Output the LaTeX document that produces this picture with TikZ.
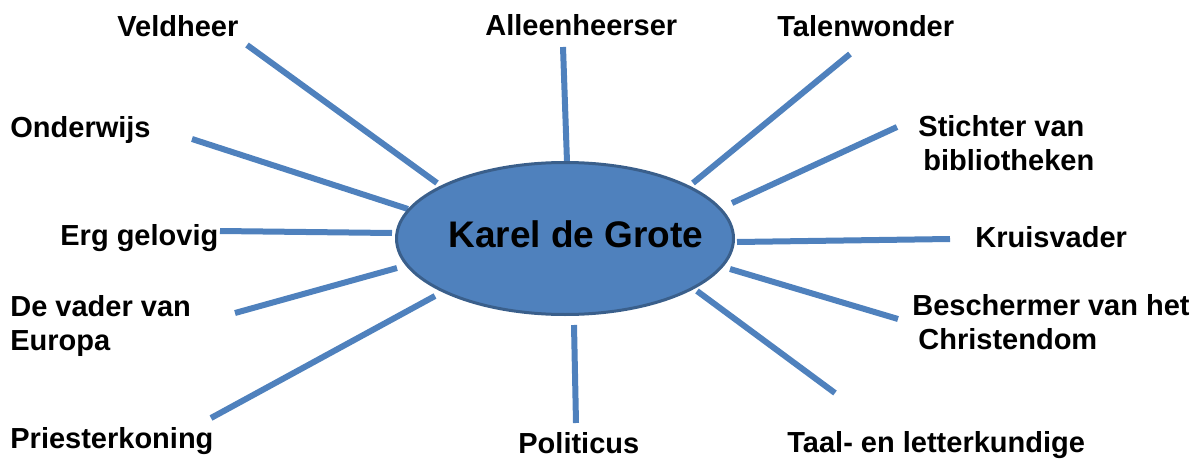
\documentclass[tikz,border=0pt]{standalone}
\usepackage{fontspec}
\setmainfont{Liberation Sans}
\usetikzlibrary{shapes.geometric}
\definecolor{lineblue}{HTML}{4F81BD}
\definecolor{ellborder}{HTML}{3A5F8B}
\begin{document}
\begin{tikzpicture}[x=0.5pt,y=-0.5pt,
  spoke/.style={draw=lineblue,line width=3pt},
  lbl/.style={anchor=base west,inner sep=0pt,font=\bfseries\fontsize{14.5}{17}\selectfont},
  centre/.style={draw=ellborder,fill=lineblue,line width=1.5pt,ellipse,minimum width=168.5pt,minimum height=76pt,inner sep=0pt}]
\useasboundingbox (0,0) rectangle (1199,460);
% spoke end points
\coordinate (o1) at (247,45);   \coordinate (i1) at (437,183);
\coordinate (o2) at (192,139);  \coordinate (i2) at (408,209);
\coordinate (o3) at (220,231);  \coordinate (i3) at (392,233);
\coordinate (o4) at (235,313);  \coordinate (i4) at (397,268);
\coordinate (o5) at (211,418);  \coordinate (i5) at (435,296);
\coordinate (o6) at (563,47);   \coordinate (i6) at (567,162);
\coordinate (o7) at (576,423);  \coordinate (i7) at (574,325);
\coordinate (o8) at (850,54);   \coordinate (i8) at (693,183);
\coordinate (o9) at (897,127);  \coordinate (i9) at (732,203);
\coordinate (o10) at (950,239); \coordinate (i10) at (737,242);
\coordinate (o11) at (898,319); \coordinate (i11) at (730,269);
\coordinate (o12) at (835,393); \coordinate (i12) at (697,291);
\foreach \n in {1,...,12}{\draw[spoke] (o\n) -- (i\n);}
% centre
\node[centre] (k) at (565,238.5) {};
\node[anchor=base west,inner sep=0pt,font=\bfseries\fontsize{18.5}{22}\selectfont] (kt) at (448,247) {Karel de Grote};
% labels
\node[lbl] (l1) at (117,37) {Veldheer};
\node[lbl] (l2) at (10,138) {Onderwijs};
\node[lbl] (l3) at (60,245) {Erg gelovig};
\node[lbl] (l4) at (10,316) {\begin{tabular}[t]{@{}l@{}}De vader van\\Europa\end{tabular}};
\node[lbl] (l5) at (10,448) {Priesterkoning};
\node[lbl] (l6) at (485,36) {Alleenheerser};
\node[lbl] (l7) at (518,453) {Politicus};
\node[lbl] (l8) at (777,37) {Talenwonder};
\node[lbl] (l9) at (918,137) {\begin{tabular}[t]{@{}l@{}}Stichter van\\\hspace{2.5pt}bibliotheken\end{tabular}};
\node[lbl] (l10) at (975,247) {Kruisvader};
\node[lbl] (l11) at (912,315) {\begin{tabular}[t]{@{}l@{}}Beschermer van het\\\hspace{3pt}Christendom\end{tabular}};
\node[lbl] (l12) at (787,452) {Taal- en letterkundige};
\end{tikzpicture}
\end{document}
